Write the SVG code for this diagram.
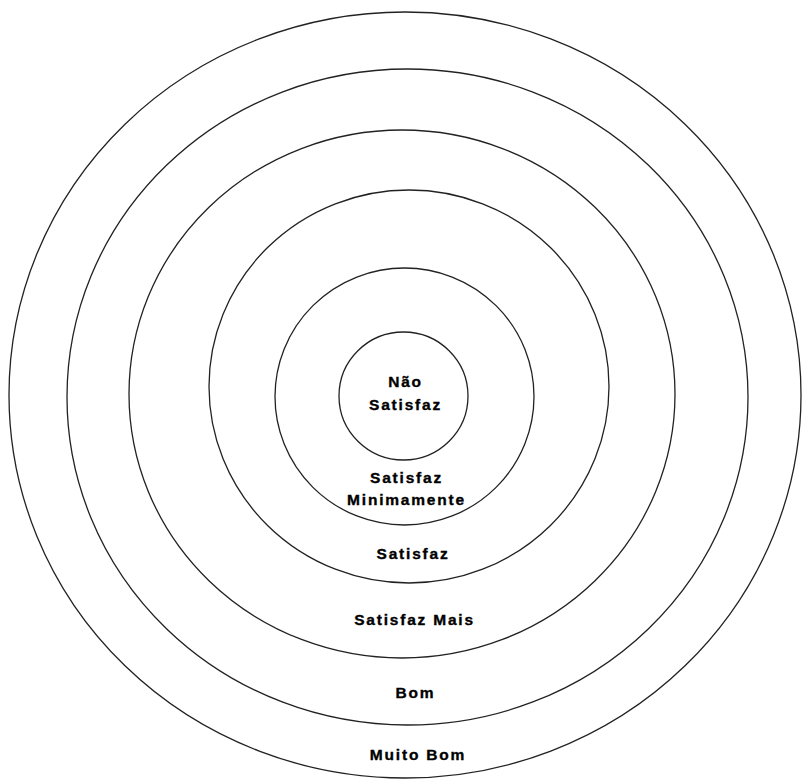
<svg xmlns="http://www.w3.org/2000/svg" width="802" height="780" viewBox="0 0 802 780">
<style>
.ring{fill:none;stroke:#222;stroke-width:1.3}
.lbl{font-family:"Liberation Sans",Arial,sans-serif;font-weight:bold;font-size:15.5px;letter-spacing:1.8px;text-anchor:middle;fill:#000;stroke:#000;stroke-width:0.35}
</style>
<rect width="802" height="780" fill="#fff"/>
<g id="muito-bom">
<ellipse class="ring" cx="405" cy="395" rx="396" ry="383"/>
<text class="lbl" x="418" y="760">Muito Bom</text>
</g>
<g id="bom">
<ellipse class="ring" cx="407.5" cy="397" rx="340.5" ry="328"/>
<text class="lbl" x="415.5" y="698">Bom</text>
</g>
<g id="satisfaz-mais">
<ellipse class="ring" cx="402" cy="394" rx="273" ry="264"/>
<text class="lbl" x="414.5" y="625">Satisfaz Mais</text>
</g>
<g id="satisfaz">
<ellipse class="ring" cx="409" cy="386.5" rx="200" ry="196.5"/>
<text class="lbl" x="413" y="559">Satisfaz</text>
</g>
<g id="satisfaz-minimamente">
<ellipse class="ring" cx="404.5" cy="396.5" rx="129.5" ry="128.5"/>
<text class="lbl" x="406.5" y="483">Satisfaz</text>
<text class="lbl" x="406.5" y="505">Minimamente</text>
</g>
<g id="nao-satisfaz">
<ellipse class="ring" cx="403.5" cy="396" rx="64.5" ry="64"/>
<text class="lbl" x="405.5" y="387">Não</text>
<text class="lbl" x="405.5" y="410">Satisfaz</text>
</g>
<g id="connectors"></g>
</svg>
